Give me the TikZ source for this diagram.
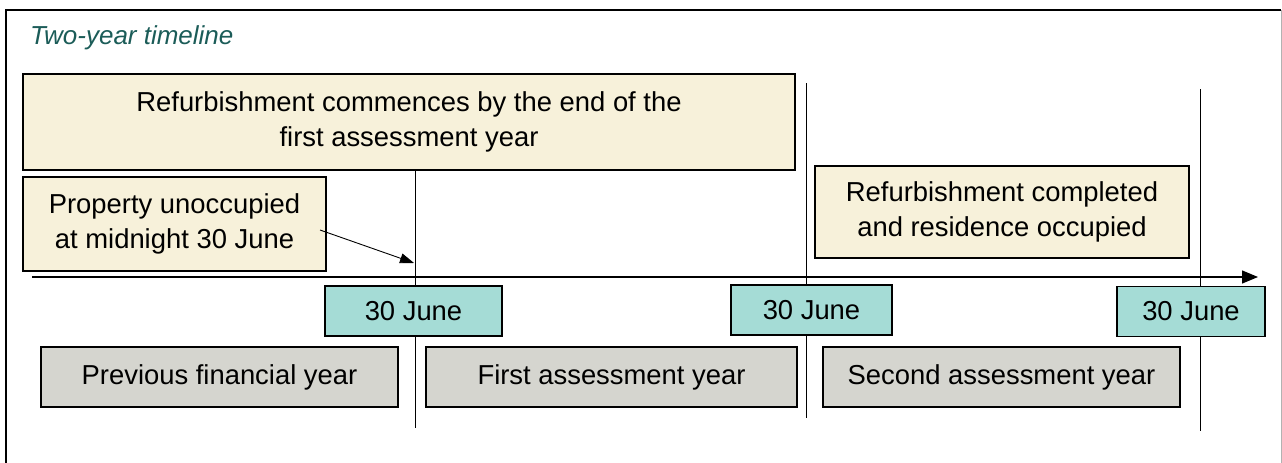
\documentclass[tikz,border=0pt]{standalone}
\usepackage{fontspec}
\setmainfont{Liberation Sans}
\usetikzlibrary{arrows.meta}
\usetikzlibrary{positioning}

\definecolor{notecream}{HTML}{F7F1DA}
\definecolor{datebox}{HTML}{A5DCD6}
\definecolor{yearbox}{HTML}{D5D5CF}
\definecolor{titleteal}{HTML}{1B5C58}

\tikzset{
  box/.style = {rectangle, draw = black, line width = 1.3pt, inner sep = 0pt, align = center,
    font = \fontsize{27.4}{35}\selectfont},
  notebox/.style = {box, fill = notecream},
  datenode/.style = {box, fill = datebox, minimum height = 50pt},
  yearnode/.style = {box, fill = yearbox, minimum height = 60pt},
  yearline/.style = {line width = 0.9pt}
}

\begin{document}
\begin{tikzpicture}[x=1pt, y=-1pt]
\useasboundingbox (0,0) rectangle (1282,463);
% frame and title
\draw[line width = 1.8pt] (6,470) -- (6,10) -- (1281,10);
\draw[gray!60, line width = 0.8pt] (1281,10) -- (1281,470);
\node[anchor = west, text = titleteal, font = \fontsize{26}{30}\selectfont\itshape, inner sep = 0pt] (title) at (30,38) {Two-year timeline};

% year ends
\coordinate (v1t) at (415,170); \coordinate (v1b) at (415,428);
\coordinate (v2t) at (806,83);  \coordinate (v2b) at (806,418);
\coordinate (v3t) at (1200,89); \coordinate (v3b) at (1200,431);
\draw[yearline] (v1t) -- (v1b);
\draw[yearline] (v2t) -- (v2b);
\draw[yearline] (v3t) -- (v3b);

% time axis
\coordinate (tstart) at (32,277);
\coordinate (tend) at (1258,277);
\draw[line width = 1.3pt, -{Triangle[length = 16pt, width = 13pt]}] (tstart) -- (tend);

% notes
\node[notebox, minimum width = 772pt, minimum height = 96pt] (starts) at (409,122) {Refurbishment commences by the end of the\\first assessment year};
\node[notebox, minimum width = 303pt, minimum height = 94pt] (empty) at (174.5,224) {Property unoccupied\\at midnight 30 June};
\node[notebox, minimum width = 374pt, minimum height = 92pt] (done) at (1002,212) {Refurbishment completed\\and residence occupied};
\coordinate (fromnote) at (320,230);
\coordinate (midnight) at (414,263);
\draw[line width = 0.9pt, -{Triangle[length = 14pt, width = 10pt]}] (fromnote) -- (midnight);

% dates
\node[datenode, minimum width = 177pt] (d1) at (413.5,311) {30 June};
\node[datenode, minimum width = 161pt] (d2) at (811.5,310) {30 June};
\node[datenode, minimum width = 148pt] (d3) at (1191,311.5) {30 June};

% years
\node[yearnode, minimum width = 357pt] (y0) at (219.5,377) {Previous financial year};
\node[yearnode, minimum width = 371pt] (y1) at (611.5,377) {First assessment year};
\node[yearnode, minimum width = 357pt] (y2) at (1001.5,377) {Second assessment year};
\end{tikzpicture}
\end{document}
